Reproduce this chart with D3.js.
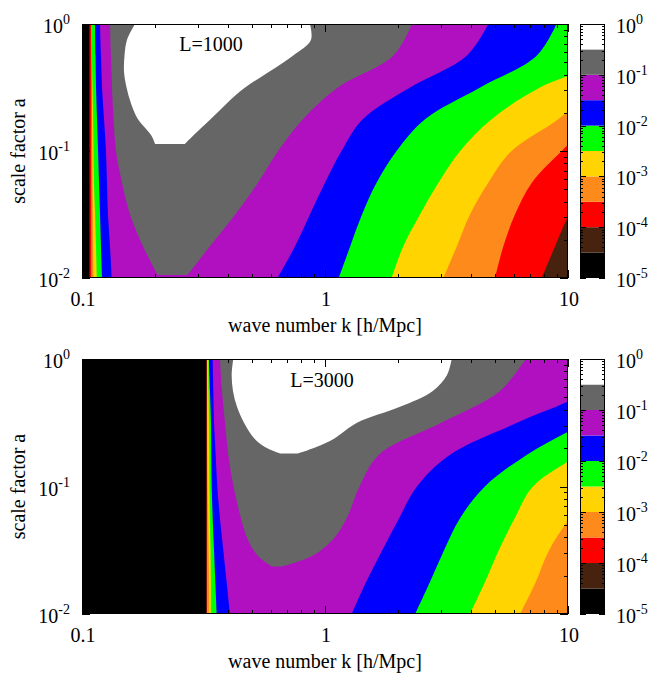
<!DOCTYPE html>
<html>
<head>
<meta charset="utf-8">
<script src="https://cdn.jsdelivr.net/npm/d3@7"></script>
<style>
    body { margin: 0; background: #fff; }
    text { font-family: "Liberation Serif", "Times New Roman", serif; fill: #000; }
</style>
</head>
<body>
<div id="chart"></div>
<script>
"use strict";

// tick labels
const xTickValues = [0.1, 1, 10];
const xTickLabels = ["0.1", "1", "10"];
const yTickExps = [0, -1, -2];
const cbExps = [0, -1, -2, -3, -4, -5];

// colour bands, lowest first (1e-5 .. 1)
const bandEdges = [1e-5, 3.162e-5, 1e-4, 3.162e-4, 1e-3, 3.162e-3, 1e-2, 3.162e-2, 1e-1, 3.162e-1, 1];
const bandColors = ["#000000", "#47230f", "#ff0000", "#ff8a1c", "#ffd400", "#00ff00",
    "#0000ff", "#b010c0", "#666666", "#ffffff"];

// scale factor rows where the contour edges were read
const aRows = [1, 0.5623, 0.3162, 0.1778, 0.1, 0.05623, 0.03162, 0.01778, 0.01];

// L=1000: left (lo) and right (hi) edge in k of each region, brown .. purple
const lo1000 = [
    [0.1069, 0.1069, 0.1069, 0.1069, 0.1069, 0.1069, 0.1069, 0.1069, 0.1069],
    [0.1079, 0.1079, 0.1079, 0.1079, 0.1079, 0.1079, 0.1079, 0.1079, 0.1079],
    [0.1093, 0.1093, 0.1093, 0.1093, 0.1091, 0.1091, 0.1091, 0.1091, 0.1091],
    [0.1097, 0.1097, 0.1099, 0.1099, 0.1102, 0.1105, 0.1108, 0.1110, 0.1115],
    [0.1099, 0.1099, 0.1105, 0.1110, 0.1115, 0.1120, 0.1131, 0.1142, 0.1150],
    [0.1131, 0.1137, 0.1142, 0.1153, 0.1164, 0.1175, 0.1186, 0.1197, 0.1209],
    [0.1186, 0.1197, 0.1209, 0.1232, 0.1255, 0.1267, 0.1279, 0.1304, 0.1325]
];
const hi1000 = [
    [100, 100, 100, 100, 100, 100, 100, 100, 100],
    [40, 35, 28, 22, 16, 12, 10.1, 8.85, 7.80],
    [30, 25, 18, 13, 9.42, 7.10, 6.05, 5.42, 5.01],
    [22, 18, 13, 9.12, 5.86, 4.70, 3.95, 3.49, 3.07],
    [22, 16, 7.67, 4.85, 3.60, 2.93, 2.46, 2.10, 1.88],
    [8.97, 7.43, 4.35, 2.58, 1.97, 1.63, 1.42, 1.27, 1.14],
    [4.70, 3.83, 2.24, 1.43, 1.17, 1.00, 0.867, 0.753, 0.638]
];
const grayA1000 = [1, 0.5623, 0.3162, 0.1778, 0.1, 0.05623, 0.03162, 0.01778, 0.01056];
const grayLo1000 = [0.1304, 0.1316, 0.1329, 0.1348, 0.1380, 0.1461, 0.1576, 0.1782, 0.2050];
const grayHi1000 = [2.28, 1.91, 1.13, 0.811, 0.641, 0.530, 0.427, 0.336, 0.272];
const whiteA1000 = [1, 0.748, 0.5623, 0.422, 0.3162, 0.237, 0.1778, 0.134, 0.1135];
const whiteLo1000 = [0.1652, 0.1531, 0.1496, 0.1489, 0.1525, 0.1591, 0.1700, 0.1920, 0.2000];
const whiteHi1000 = [0.867, 0.875, 0.738, 0.591, 0.469, 0.394, 0.338, 0.289, 0.265];

// L=3000
const lo3000 = [
    [0.3250, 0.3250, 0.3250, 0.3250, 0.3250, 0.3250, 0.3250, 0.3250, 0.3250],
    [0.3259, 0.3259, 0.3259, 0.3259, 0.3259, 0.3259, 0.3259, 0.3259, 0.3259],
    [0.3268, 0.3268, 0.3268, 0.3268, 0.3268, 0.3268, 0.3268, 0.3268, 0.3268],
    [0.3270, 0.3272, 0.3275, 0.3280, 0.3290, 0.3305, 0.3320, 0.3335, 0.3345],
    [0.3315, 0.3320, 0.3330, 0.3340, 0.3345, 0.3360, 0.3380, 0.3390, 0.3395],
    [0.3331, 0.3363, 0.3395, 0.3405, 0.3417, 0.3450, 0.3493, 0.3537, 0.3583],
    [0.3450, 0.3470, 0.3493, 0.3549, 0.3603, 0.3697, 0.3815, 0.3938, 0.4064]
];
const hi3000 = [
    [100, 100, 100, 100, 100, 100, 100, 100, 100],
    [100, 100, 100, 100, 100, 100, 100, 100, 100],
    [100, 100, 100, 100, 100, 100, 100, 100, 100],
    [55, 40, 28, 20, 14, 10.2, 8.36, 7.36, 6.35],
    [35, 25, 16, 11.0, 7.18, 6.03, 5.19, 4.55, 3.95],
    [25, 18, 11.6, 6.78, 4.55, 3.59, 3.09, 2.70, 2.35],
    [16, 12, 6.17, 3.27, 2.39, 2.016, 1.721, 1.475, 1.288]
];
const grayA3000 = [1, 0.5623, 0.3162, 0.1778, 0.1, 0.05623, 0.0381, 0.0285, 0.0236];
const grayLo3000 = [0.3698, 0.3768, 0.3877, 0.3999, 0.4202, 0.4512, 0.4821, 0.5302, 0.6049];
const grayHi3000 = [6.70, 5.25, 3.01, 1.668, 1.387, 1.227, 1.073, 0.884, 0.665];
const whiteA3000 = [1, 0.749, 0.5623, 0.4217, 0.3162, 0.2370, 0.2041, 0.1815];
const whiteLo3000 = [0.4193, 0.4130, 0.4181, 0.4344, 0.4642, 0.5129, 0.5663, 0.6530];
const whiteHi3000 = [3.322, 3.178, 2.778, 2.035, 1.354, 1.089, 0.921, 0.774];

const plotLeft = 82, plotRight = 568;
const cbLeft = 580, cbRight = 605;

const panels = [
    {top: 24, bottom: 278, label: "L=1000", labelX: 211, labelY: 51,
        lo: lo1000, hi: hi1000,
        gray: [grayA1000, grayLo1000, grayHi1000], white: [whiteA1000, whiteLo1000, whiteHi1000]},
    {top: 359, bottom: 614, label: "L=3000", labelX: 322, labelY: 387,
        lo: lo3000, hi: hi3000,
        gray: [grayA3000, grayLo3000, grayHi3000], white: [whiteA3000, whiteLo3000, whiteHi3000]}
];

const svg = d3.select("#chart").append("svg")
    .attr("width", 654)
    .attr("height", 676)
    .style("background-color", "#fff");

const isDecade = (v) => Math.abs(Math.log10(v) - Math.round(Math.log10(v))) < 1e-6;

function superLabel(sel, exp) {
    sel.append("tspan").text("10");
    sel.append("tspan").attr("dy", -9).style("font-size", "14px").text(String(exp));
}

panels.forEach((p, idx) => {
    const x = d3.scaleLog().domain([0.1, 10]).range([plotLeft, plotRight]);
    const y = d3.scaleLog().domain([0.01, 1]).range([p.bottom, p.top]);
    const cbY = d3.scaleLog().domain([1e-5, 1]).range([p.bottom, p.top]);

    svg.append("clipPath").attr("id", "clip" + idx)
        .append("rect")
        .attr("x", plotLeft).attr("y", p.top)
        .attr("width", plotRight - plotLeft).attr("height", p.bottom - p.top);

    const field = svg.append("g").attr("clip-path", "url(#clip" + idx + ")");
    field.append("rect")
        .attr("x", plotLeft).attr("y", p.top)
        .attr("width", plotRight - plotLeft).attr("height", p.bottom - p.top)
        .attr("fill", bandColors[0]);

    const area = d3.area()
        .curve(d3.curveCatmullRom.alpha(0.5))
        .y((d) => y(d.a))
        .x0((d) => x(d.lo))
        .x1((d) => x(d.hi));

    const layers = p.lo.map((lo, i) => ({a: aRows, lo: lo, hi: p.hi[i], color: bandColors[i + 1]}));
    layers.push({a: p.gray[0], lo: p.gray[1], hi: p.gray[2], color: bandColors[8]});
    layers.push({a: p.white[0], lo: p.white[1], hi: p.white[2], color: bandColors[9]});

    field.selectAll("path")
        .data(layers)
        .join("path")
        .attr("fill", (l) => l.color)
        .attr("d", (l) => area(l.a.map((a, j) => ({a: a, lo: l.lo[j], hi: l.hi[j]}))));

    // ticks inside the frame
    const ticks = svg.append("g").attr("stroke", "#000").attr("stroke-width", 1);
    x.ticks().forEach((v) => {
        const len = isDecade(v) ? 8 : 4;
        const px = Math.round(x(v)) + 0.5;
        ticks.append("line").attr("x1", px).attr("x2", px).attr("y1", p.bottom).attr("y2", p.bottom - len);
        ticks.append("line").attr("x1", px).attr("x2", px).attr("y1", p.top).attr("y2", p.top + len);
    });
    y.ticks().forEach((v) => {
        const len = isDecade(v) ? 8 : 4;
        const py = Math.round(y(v)) + 0.5;
        ticks.append("line").attr("x1", plotLeft).attr("x2", plotLeft + len).attr("y1", py).attr("y2", py);
        ticks.append("line").attr("x1", plotRight).attr("x2", plotRight - len).attr("y1", py).attr("y2", py);
    });

    svg.append("rect")
        .attr("x", plotLeft + 0.5).attr("y", p.top + 0.5)
        .attr("width", plotRight - plotLeft - 1).attr("height", p.bottom - p.top - 1)
        .attr("fill", "none").attr("stroke", "#000");

    // colour bar
    const cb = svg.append("g");
    cb.selectAll("rect.band")
        .data(d3.range(bandColors.length))
        .join("rect")
        .attr("class", "band")
        .attr("x", cbLeft)
        .attr("width", cbRight - cbLeft)
        .attr("y", (i) => cbY(bandEdges[i + 1]))
        .attr("height", (i) => cbY(bandEdges[i]) - cbY(bandEdges[i + 1]))
        .attr("fill", (i) => bandColors[i]);
    cbY.ticks().forEach((v) => {
        const len = isDecade(v) ? 6 : 3;
        const py = Math.round(cbY(v)) + 0.5;
        cb.append("line").attr("stroke", "#000").attr("x1", cbLeft).attr("x2", cbLeft + len).attr("y1", py).attr("y2", py);
        cb.append("line").attr("stroke", "#000").attr("x1", cbRight).attr("x2", cbRight - len).attr("y1", py).attr("y2", py);
    });
    cb.append("rect")
        .attr("x", cbLeft + 0.5).attr("y", p.top + 0.5)
        .attr("width", cbRight - cbLeft - 1).attr("height", p.bottom - p.top - 1)
        .attr("fill", "none").attr("stroke", "#000");
    cbExps.forEach((e) => {
        cb.append("text")
            .attr("x", 616).attr("y", cbY(Math.pow(10, e)) + 9)
            .style("font-size", "20px")
            .call(superLabel, e);
    });

    // tick labels
    xTickValues.forEach((v, i) => {
        svg.append("text")
            .attr("x", x(v) + 1).attr("y", p.bottom + 28)
            .attr("text-anchor", "middle")
            .style("font-size", "20px")
            .text(xTickLabels[i]);
    });
    yTickExps.forEach((e) => {
        svg.append("text")
            .attr("x", 70).attr("y", y(Math.pow(10, e)) + 9)
            .attr("text-anchor", "end")
            .style("font-size", "20px")
            .call(superLabel, e);
    });

    // axis titles and panel label
    svg.append("text")
        .attr("text-anchor", "middle")
        .style("font-size", "20px")
        .attr("transform", "translate(25," + ((p.top + p.bottom) / 2) + ")rotate(-90)")
        .text("scale factor a");
    svg.append("text")
        .attr("x", (plotLeft + plotRight) / 2).attr("y", p.bottom + 54)
        .attr("text-anchor", "middle")
        .style("font-size", "20px")
        .text("wave number k [h/Mpc]");
    svg.append("text")
        .attr("x", p.labelX).attr("y", p.labelY)
        .attr("text-anchor", "middle")
        .style("font-size", "20px")
        .text(p.label);
});
</script>
</body>
</html>
